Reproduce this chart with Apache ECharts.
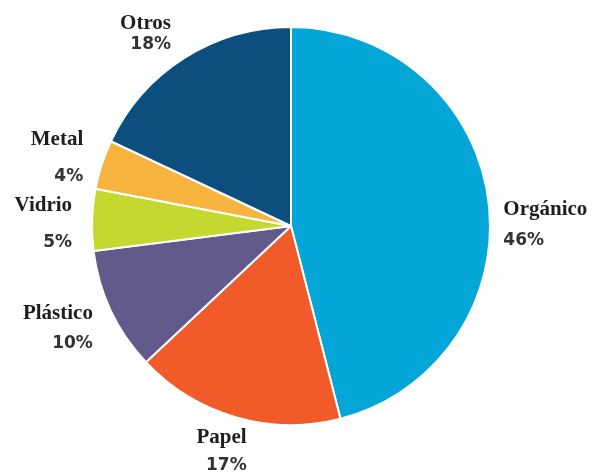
<!DOCTYPE html>
<html>
<head>
<meta charset="utf-8">
<script src="https://cdn.jsdelivr.net/npm/echarts@6/dist/echarts.min.js"></script>
<style>
  html, body { margin: 0; padding: 0; background: #fff; }
  #chart { width: 594px; height: 472px; }
</style>
</head>
<body>
<div id="chart"></div>
<script>
// datos del grafico (sentido horario desde arriba)
const categories = ['Orgánico', 'Papel', 'Plástico', 'Vidrio', 'Metal', 'Otros']
const values = [46, 17, 10, 5, 4, 18]

// estilo
const colors = ['#04a6d8', '#f15a29', '#625a8a', '#c4d82f', '#f6b43f', '#0c4f7e']
// separacion entre nombre y porcentaje
const lineGaps = [31, 28, 30, 37, 37, 21]
// ajuste de las etiquetas respecto a la posicion por defecto
const labelShift = [[0, 25], [19, 25], [-4, 14], [-5, 5], [-4, -3], [-3, -15]]

const myChart = echarts.init(document.getElementById('chart'))

const data = categories.map(function (name, i) {
  const h = lineGaps[i]
  return {
    name: name,
    value: values[i],
    itemStyle: { color: colors[i] },
    label: {
      rich: {
        n: {
          fontFamily: '"Liberation Serif", "Times New Roman", serif',
          fontWeight: 'bold',
          fontSize: 21,
          color: '#1e1e1e',
          lineHeight: h
        },
        p: {
          fontFamily: '"DejaVu Sans", sans-serif',
          fontWeight: 'bold',
          fontSize: 17,
          color: '#333333',
          lineHeight: h
        }
      }
    }
  }
})

const option = {
  animation: false,
  series: [
    {
      type: 'pie',
      center: [291, 226],
      radius: 199,
      startAngle: 90,
      clockwise: true,
      avoidLabelOverlap: false,
      itemStyle: {
        borderColor: '#ffffff',
        borderWidth: 2
      },
      label: {
        show: true,
        position: 'outside',
        bleedMargin: 0,
        distanceToLabelLine: 5,
        formatter: '{n|{b}}\n{p|{d}%}'
      },
      labelLine: {
        show: false,
        length: 10,
        length2: 0
      },
      labelLayout: function (params) {
        const s = labelShift[params.dataIndex]
        return { dx: s[0], dy: s[1] }
      },
      emphasis: { disabled: true },
      data: data
    }
  ]
}

myChart.setOption(option)
</script>
</body>
</html>
